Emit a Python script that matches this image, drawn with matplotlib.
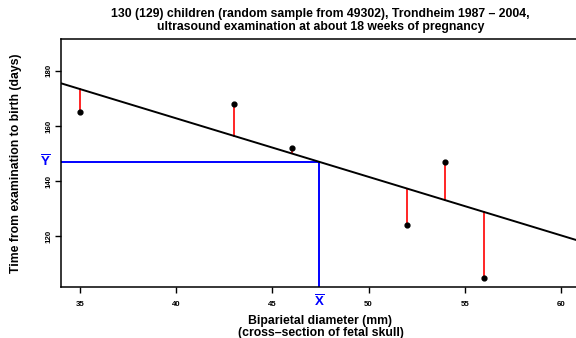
import matplotlib
matplotlib.use("Agg")
import matplotlib.pyplot as plt

# data
bpd = [35, 43, 46, 52, 54, 56]
days = [165, 168, 152, 124, 147, 105]
x_mean = 47.42
y_mean = 147.0
slope = -2.12
x_ticks = [35, 40, 45, 50, 55, 60]
y_ticks = [120, 140, 160, 180]

plt.rcParams['font.family'] = ['Liberation Sans', 'DejaVu Sans']
plt.rcParams['mathtext.fontset'] = 'custom'
plt.rcParams['mathtext.bf'] = 'Liberation Sans:bold'
plt.rcParams['mathtext.rm'] = 'Liberation Sans'

fig = plt.figure(figsize=(5.76, 3.38), dpi=100)
ax = fig.add_axes([61 / 576, 51.3 / 338, 519 / 576, 247.4 / 338])
ax.set_xlim(34, 61)
ax.set_ylim(101.7, 191.4)

# fitted line and residuals
ax.axline((x_mean, y_mean), slope=slope, color='black', lw=1.4, zorder=3)
for x, y in zip(bpd, days):
    fit = y_mean + slope * (x - x_mean)
    ax.plot([x, x], [y, fit], color='red', lw=1.2, zorder=2)
ax.scatter(bpd, days, s=12, color='black', zorder=4)

# means
ax.plot([34, x_mean], [y_mean, y_mean], color='blue', lw=1.4, zorder=2)
ax.plot([x_mean, x_mean], [y_mean, 101.7], color='blue', lw=1.4, zorder=2)
ax.text(x_mean, 96.3, r'$\mathbf{\overline{X}}$', color='blue', fontsize=9.5,
        ha='center', va='center', clip_on=False)
ax.text(33.2, y_mean, r'$\mathbf{\overline{Y}}$', color='blue', fontsize=9.5,
        ha='center', va='center', clip_on=False)

ax.set_xticks(x_ticks)
ax.set_yticks(y_ticks)
ax.tick_params(axis='both', length=4, width=1, labelsize=5.7, direction='out')
ax.tick_params(axis='x', pad=6)
ax.tick_params(axis='y', pad=2)
for lab in ax.get_xticklabels():
    lab.set_fontweight('bold')
for lab in ax.get_yticklabels():
    lab.set_fontweight('bold')
    lab.set_rotation(90)
    lab.set_va('center')
for side in ['left', 'bottom', 'top', 'right']:
    ax.spines[side].set_linewidth(1.1)

ax.set_xlabel('Biparietal diameter (mm)\n(cross\u2013section of fetal skull)',
              fontsize=8.8, fontweight='bold', labelpad=5, linespacing=1.1)
ax.set_ylabel('Time from examination to birth (days)', fontsize=8.8,
              fontweight='bold', labelpad=17)
ax.set_title('130 (129) children (random sample from 49302), Trondheim 1987 \u2013 2004,\n'
             'ultrasound examination at about 18 weeks of pregnancy',
             fontsize=8.8, fontweight='bold', pad=7, linespacing=1.1)

fig.savefig('out.png', dpi=100)
